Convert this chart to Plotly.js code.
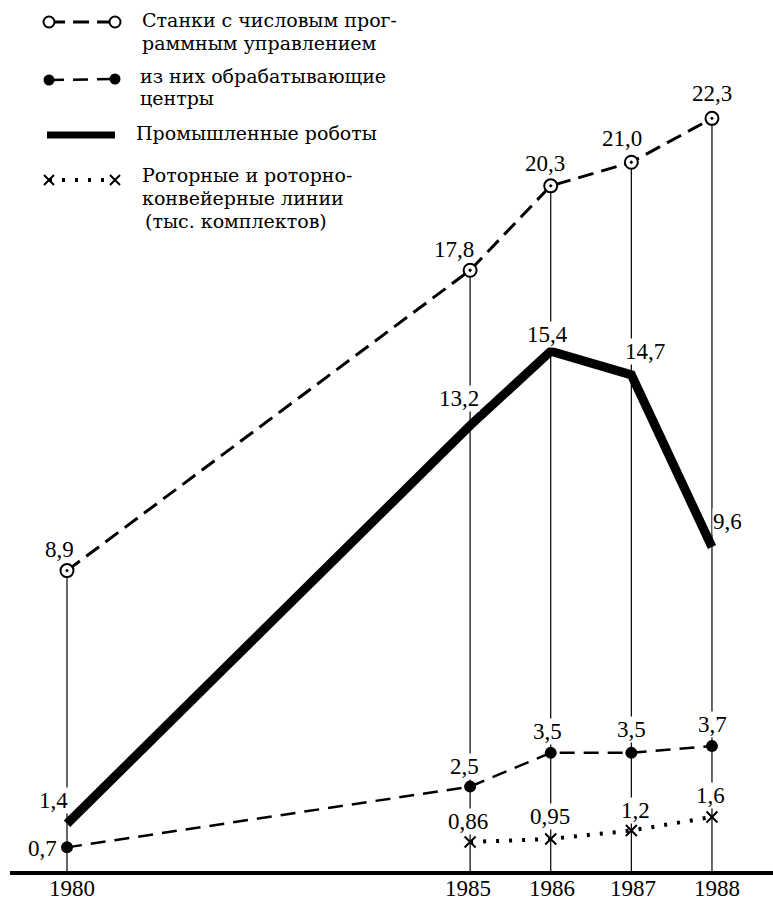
<!DOCTYPE html>
<html>
<head>
<meta charset="utf-8">
<script src="https://cdn.plot.ly/plotly-3.0.1.min.js"></script>
<style>html,body{margin:0;padding:0;background:#fff;}#chart{width:773px;height:902px;}</style>
</head>
<body>
<div id="chart"></div>
<script>
// ---- data ----
const years = [1980, 1985, 1986, 1987, 1988];
const yearLabels = ['1980', '1985', '1986', '1987', '1988'];
const cncMachines = [8.9, 17.8, 20.3, 21.0, 22.3];
const machiningCenters = [0.7, 2.5, 3.5, 3.5, 3.7];
const robots = [1.4, 13.2, 15.4, 14.7, 9.6];
const rotorYears = [1985, 1986, 1987, 1988];
const rotorLines = [0.86, 0.95, 1.2, 1.6];

const legendNames = [
  ['Станки с числовым прог-', 'раммным управлением'],
  ['из них обрабатывающие', 'центры'],
  ['Промышленные роботы'],
  ['Роторные и роторно-', 'конвейерные линии', '(тыс. комплектов)']
];

// ---- label offsets (px, relative to the point) ----
const cncOffsets = [[-8, -21], [-16, -21], [-6, -22], [-9, -24], [0, -25]];
const robotOffsets = [[-14, -23], [-11, -27], [-3, -17], [14, -23], [16, -25]];
const centerOffsets = [[-25, 1], [-6, -20], [-3, -21], [0, -23], [1, -22]];
const rotorOffsets = [[-2, -20], [-1, -22], [4, -20], [-1, -22]];
const yearLabelDx = [5, -2, 1, 2, 5];

const FONT = 'Liberation Serif';
const LFONT = 'DejaVu Serif';
const fmt = v => (Number.isInteger(v) ? v.toFixed(1) : String(v)).replace('.', ',');

// drop lines from axis to the top series
const dropX = [], dropY = [];
years.forEach((yr, i) => { dropX.push(yr, yr, null); dropY.push(0, cncMachines[i], null); });

const traces = [
  {x: dropX, y: dropY, mode: 'lines', line: {color: 'black', width: 1.2}, hoverinfo: 'skip'},
  {x: years, y: robots, mode: 'lines', line: {color: 'black', width: 9}},
  {x: years, y: cncMachines, mode: 'lines+markers', line: {color: 'black', width: 3, dash: '16px,8px'},
   marker: {symbol: 'circle-dot', size: 13, color: 'white', line: {color: 'black', width: 2}}},
  {x: years, y: machiningCenters, mode: 'lines+markers', line: {color: 'black', width: 2.5, dash: '15px,9px'},
   marker: {symbol: 'circle', size: 12, color: 'black'}},
  {x: rotorYears, y: rotorLines, mode: 'lines+markers', line: {color: 'black', width: 4, dash: '3px,10px'},
   marker: {symbol: 'x-thin-open', size: 11, color: 'black', line: {color: 'black', width: 2}}}
];

// ---- legend glyphs on an overlay pixel axis ----
const L = {x0: 49, x1: 115, rows: [22, 80, 135, 180], textX: [140, 138, 134, 140],
  textY: [[20, 43], [76, 98], [133], [175, 198, 221]], textDx: [[0, 0], [0, 0], [0], [0, 0, 3]]};
traces.push(
  {x: [L.x0, L.x1], y: [L.rows[0], L.rows[0]], xaxis: 'x2', yaxis: 'y2', mode: 'lines+markers',
   line: {color: 'black', width: 3, dash: '16px,8px'}, marker: {symbol: 'circle', size: 11, color: 'white', line: {color: 'black', width: 2}}},
  {x: [L.x0, L.x1], y: [L.rows[1], L.rows[1] - 1], xaxis: 'x2', yaxis: 'y2', mode: 'lines+markers',
   line: {color: 'black', width: 2.5, dash: '15px,9px'}, marker: {symbol: 'circle', size: 11, color: 'black'}},
  {x: [L.x0 - 2, L.x1], y: [L.rows[2], L.rows[2]], xaxis: 'x2', yaxis: 'y2', mode: 'lines',
   line: {color: 'black', width: 7}},
  {x: [L.x0, L.x1], y: [L.rows[3], L.rows[3]], xaxis: 'x2', yaxis: 'y2', mode: 'lines+markers',
   line: {color: 'black', width: 4, dash: '3px,10px'}, marker: {symbol: 'x-thin-open', size: 10, line: {color: 'black', width: 2}}}
);

const annotations = [];
function addLabels(xs, ys, offs) {
  xs.forEach((x, i) => {
    annotations.push({x: x, y: ys[i], xref: 'x', yref: 'y', text: fmt(ys[i]), showarrow: false,
      xshift: offs[i][0], yshift: -offs[i][1], xanchor: 'center', yanchor: 'middle',
      bgcolor: 'white', height: 25, borderpad: 0,
      font: {family: FONT, size: 23, color: 'black'}});
  });
}
addLabels(years, cncMachines, cncOffsets);
addLabels(years, robots, robotOffsets);
addLabels(years, machiningCenters, centerOffsets);
addLabels(rotorYears, rotorLines, rotorOffsets);

years.forEach((yr, i) => {
  annotations.push({x: yr, y: 0, xref: 'x', yref: 'y', text: yearLabels[i], showarrow: false,
    xshift: yearLabelDx[i], yshift: -17, xanchor: 'center', yanchor: 'middle',
    font: {family: FONT, size: 23, color: 'black'}});
});

legendNames.forEach((lines, i) => {
  lines.forEach((t, j) => {
    annotations.push({x: L.textX[i] + L.textDx[i][j], y: L.textY[i][j], xref: 'x2', yref: 'y2', text: t, showarrow: false,
      xanchor: 'left', yanchor: 'middle', font: {family: LFONT, size: 19, color: 'black'}});
  });
});

const layout = {
  width: 773, height: 902,
  margin: {l: 10, r: 0, t: 0, b: 31},
  paper_bgcolor: 'white', plot_bgcolor: 'white',
  showlegend: false,
  font: {family: FONT, size: 23, color: 'black'},
  xaxis: {range: [1979.293, 1988.757], showgrid: false, zeroline: false, showticklabels: false,
    showline: true, linecolor: 'black', linewidth: 4, ticks: ''},
  yaxis: {range: [0, 25.807], showgrid: false, zeroline: false, showline: false, showticklabels: false, ticks: ''},
  xaxis2: {overlaying: 'x', range: [10, 773], visible: false},
  yaxis2: {overlaying: 'y', range: [871, 0], visible: false},
  annotations: annotations
};

Plotly.newPlot('chart', traces, layout, {staticPlot: true, displayModeBar: false});
</script>
</body>
</html>
